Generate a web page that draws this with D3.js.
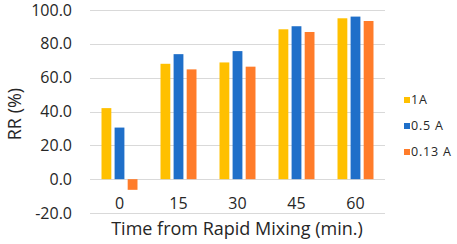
<!DOCTYPE html>
<html>
<head>
<meta charset="utf-8">
<script src="https://cdn.jsdelivr.net/npm/d3@7"></script>
<style>
  body { margin: 0; background: #fff; }
  text { font-family: "Open Sans", "Noto Sans", sans-serif; fill: #262626; }
</style>
</head>
<body>
<div id="chart"></div>
<script>
// Chart data
var times = ['0', '15', '30', '45', '60'];
var seriesNames = ['1A', '0.5 A', '0.13 A'];
var rr1A = [42.0, 68.2, 69.0, 88.6, 95.1];
var rr05A = [30.5, 73.9, 75.7, 90.4, 96.1];
var rr013A = [-6.3, 64.9, 66.5, 87.0, 93.5];
var yTicks = [-20, 0, 20, 40, 60, 80, 100];

var colors = ['#FFC000', '#1F6FC9', '#FF7C2A'];

var width = 457, height = 244;
var margin = {top: 10, left: 90, right: 72, bottom: 31};

var svg = d3.select('#chart').append('svg')
    .attr('width', width)
    .attr('height', height);

var plotW = width - margin.left - margin.right;
var plotH = height - margin.top - margin.bottom;

var g = svg.append('g')
    .attr('transform', 'translate(' + margin.left + ',' + margin.top + ')');

var y = d3.scaleLinear()
    .domain([-20, 100])
    .range([plotH, 0]);

var x = d3.scaleBand()
    .domain(times)
    .range([0, plotW])
    .paddingInner(0.39)
    .paddingOuter(0.195);

var xs = d3.scaleBand()
    .domain(seriesNames)
    .range([0, x.bandwidth()])
    .paddingInner(0.25);

// plain hyphen for negatives, like the original
var fmt = d3.formatLocale({decimal: '.', thousands: ',', grouping: [3], currency: ['', ''], minus: '-'}).format('.1f');

// gridlines
g.append('g').attr('class', 'grid')
  .selectAll('line')
  .data(yTicks)
  .enter().append('line')
    .attr('x1', 0)
    .attr('x2', plotW)
    .attr('y1', d => Math.round(y(d)) + 0.5)
    .attr('y2', d => Math.round(y(d)) + 0.5)
    .attr('stroke', '#d9d9d9')
    .attr('stroke-width', 1);

// y axis labels
var yAxis = d3.axisLeft(y)
    .tickValues(yTicks)
    .tickFormat(fmt)
    .tickSize(0)
    .tickPadding(18);
var gY = g.append('g').call(yAxis);
gY.select('.domain').remove();
gY.selectAll('text')
    .style('font-size', '16px')
    .style('font-family', '"Open Sans", sans-serif')
    .attr('fill', '#262626');

// x axis labels, sitting between the 0 and -20 gridlines
var xAxis = d3.axisBottom(x).tickSize(0).tickPadding(18);
var gX = g.append('g')
    .attr('transform', 'translate(0,' + y(0) + ')')
    .call(xAxis);
gX.select('.domain').remove();
gX.selectAll('text')
    .style('font-size', '16px')
    .style('font-family', '"Open Sans", sans-serif')
    .attr('fill', '#262626');

// bars
var series = [rr1A, rr05A, rr013A];
var rows = [];
times.forEach((t, i) => {
  seriesNames.forEach((s, j) => {
    rows.push({time: t, name: s, value: series[j][i], idx: j});
  });
});

g.append('g').attr('class', 'bars')
  .selectAll('rect')
  .data(rows)
  .enter().append('rect')
    .attr('x', d => x(d.time) + xs(d.name))
    .attr('width', xs.bandwidth())
    .attr('y', d => y(Math.max(0, d.value)))
    .attr('height', d => Math.abs(y(d.value) - y(0)))
    .attr('fill', d => colors[d.idx]);

// axis titles
svg.append('text')
    .attr('transform', 'translate(21,' + (margin.top + y(38.5)) + ') rotate(-90)')
    .attr('text-anchor', 'middle')
    .style('font-size', '18px')
    .text('RR (%)');

svg.append('text')
    .attr('x', 237)
    .attr('y', 235)
    .attr('text-anchor', 'middle')
    .style('font-size', '18px')
    .text('Time from Rapid Mixing (min.)');

// legend
var legend = svg.append('g')
    .attr('transform', 'translate(404,100)');
var li = legend.selectAll('g')
    .data(seriesNames)
    .enter().append('g')
    .attr('transform', (d, i) => 'translate(0,' + (i * 26) + ')');
li.append('rect')
    .attr('x', 0).attr('y', -3)
    .attr('width', 6).attr('height', 6)
    .attr('fill', (d, i) => colors[i]);
li.append('text')
    .attr('x', 7)
    .attr('y', 0)
    .attr('dy', '0.35em')
    .style('font-size', '12.5px')
    .style('letter-spacing', '0.8px')
    .text(d => d);
</script>
</body>
</html>
